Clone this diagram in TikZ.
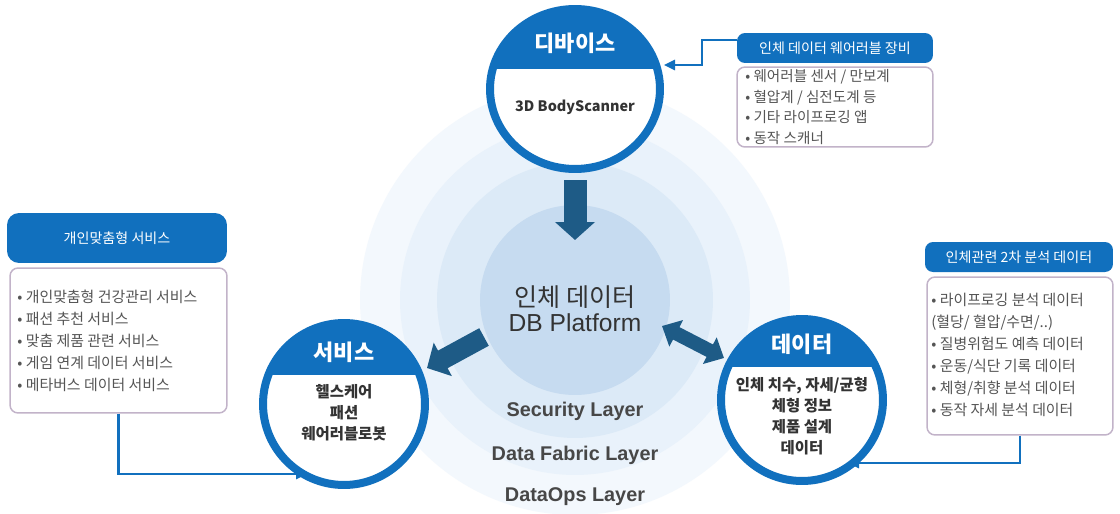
\documentclass[tikz,border=0pt]{standalone}
\usepackage{fontspec}
\setmainfont{Noto Sans CJK KR}
\newfontfamily\latinf{Liberation Sans}
\usetikzlibrary{arrows.meta,calc,shapes.geometric}
\definecolor{cblue}{HTML}{1170BE}
\definecolor{arrowc}{HTML}{1E5B86}
\definecolor{platc}{HTML}{C6DBF0}
\definecolor{haloa}{HTML}{F3F8FD}
\definecolor{halob}{HTML}{E9F2FB}
\definecolor{haloc}{HTML}{DCEAF7}
\definecolor{boxline}{HTML}{C2B3C9}
\definecolor{txtdark}{HTML}{333333}
\definecolor{txtgray}{HTML}{555555}
\tikzset{
  ringnode/.style={fill=white, draw=cblue, line width=0.16cm, inner sep=0pt},
  titletext/.style={font=\bfseries\fontsize{12.5}{15}\selectfont, text=white, inner sep=0pt},
  ctext/.style={font=\bfseries\fontsize{8.8}{11.9}\selectfont, text=txtdark, align=center, inner sep=0pt},
  hdrbox/.style={fill=cblue, rounded corners=0.16cm, text=white, font=\fontsize{8}{10}\selectfont, inner sep=0pt},
  bodybox/.style={draw=boxline, line width=0.03cm, rounded corners=0.16cm, fill=white, inner sep=0pt},
  items/.style={font=\fontsize{8.5}{12.5}\selectfont, text=txtgray, align=left, anchor=west, inner sep=0pt},
  layertext/.style={font=\latinf\bfseries\fontsize{11.3}{13}\selectfont, text=txtdark!90},
  conn/.style={draw=cblue, line width=0.05cm, -{Triangle[length=0.22cm,width=0.2cm]}},
  blockarrow/.style={draw=arrowc}
}
\begin{document}
\begin{tikzpicture}[x=0.02cm,y=-0.02cm]
\useasboundingbox (0,0) rectangle (1120,514);
\fill[white] (0,0) rectangle (1120,514);

% halo rings around the platform
\begin{scope}
\clip (0,0) rectangle (1120,514);
\fill[haloa] (575,300) circle[radius=4.3cm];
\fill[halob] (575,300) circle[radius=3.5cm];
\fill[haloc] (575,300) circle[radius=2.76cm];
\end{scope}
\node[circle, fill=platc, minimum size=3.8cm, inner sep=0pt] (plat) at (575,300) {};
\node[font=\fontsize{14.3}{16}\selectfont, text=txtdark] (platt1) at (575,297) {인체 데이터};
\node[font=\latinf\fontsize{14}{16}\selectfont, text=txtdark] (platt2) at (575,323) {DB Platform};
\node[layertext] (lay1) at (575,411) {Security Layer};
\node[layertext] (lay2) at (575,455) {Data Fabric Layer};
\node[layertext] (lay3) at (575,497) {DataOps Layer};

% device circle
\node[ringnode, ellipse, minimum width=3.4cm, minimum height=3.2cm,
  path picture={\fill[cblue] (path picture bounding box.north west) rectangle ([yshift=-1.2cm]path picture bounding box.north east);}]
  (dev) at (575,89) {};
\node[titletext] (devt) at (575,43) {디바이스};
\node[ctext, font=\bfseries\fontsize{8.2}{11}\selectfont] (devb) at (575,107) {3D BodyScanner};

% service circle
\node[ringnode, circle, minimum size=3.24cm,
  path picture={\fill[cblue] (path picture bounding box.north west) rectangle ([yshift=-1.04cm]path picture bounding box.north east);}]
  (svc) at (344,404) {};
\node[titletext] (svct) at (344,352) {서비스};
\node[ctext] (svcb) at (344,413) {헬스케어\\패션\\웨어러블로봇};

% data circle
\node[ringnode, circle, minimum size=3.24cm,
  path picture={\fill[cblue] (path picture bounding box.north west) rectangle ([yshift=-0.96cm]path picture bounding box.north east);}]
  (dat) at (802,400) {};
\node[titletext] (datt) at (802,344) {데이터};
\node[ctext] (datb) at (802,416) {인체 치수, 자세/균형\\체형 정보\\제품 설계\\데이터};

% block arrows
\coordinate (a1s) at (575,180);
\coordinate (a1e) at (575,240);
\draw[blockarrow, line width=0.46cm, -{Triangle[width=0.78cm,length=0.36cm]}] (a1s) -- (a1e);
\coordinate (a2s) at (484,337);
\coordinate (a2e) at (427,368);
\draw[blockarrow, line width=0.4cm, -{Triangle[width=0.74cm,length=0.36cm]}] (a2s) -- (a2e);
\coordinate (a3s) at (662,326);
\coordinate (a3e) at (724,358);
\draw[blockarrow, line width=0.28cm, {Triangle[width=0.58cm,length=0.32cm]}-{Triangle[width=0.58cm,length=0.32cm]}] (a3s) -- (a3e);

% top right callout
\node[hdrbox, minimum width=3.92cm, minimum height=0.6cm] (wh) at (835,48) {인체 데이터 웨어러블 장비};
\node[bodybox, minimum width=3.92cm, minimum height=1.6cm] (wb) at (835,107) {};
\node[items, font=\fontsize{8.3}{11.9}\selectfont] (wi) at (745,107) {• 웨어러블 센서 / 만보계\\• 혈압계 / 심전도계 등\\• 기타 라이프로깅 앱\\• 동작 스캐너};
\coordinate (devin) at (664,65);
\draw[conn] ($(wh.west)+(0,-8)$) -| (702,65) -- (devin);

% left callout
\node[hdrbox, rounded corners=0.24cm, minimum width=4.4cm, minimum height=1.0cm] (lh) at (117,238) {개인맞춤형 서비스};
\node[bodybox, minimum width=4.34cm, minimum height=2.9cm] (lb) at (118.5,340.5) {};
\node[items] (li) at (17,341) {• 개인맞춤형 건강관리 서비스\\• 패션 추천 서비스\\• 맞춤 제품 관련 서비스\\• 게임 연계 데이터 서비스\\• 메타버스 데이터 서비스};
\coordinate (svcin) at (307,474);
\draw[conn] (lb.south) |- (svcin);

% right callout
\node[hdrbox, minimum width=3.76cm, minimum height=0.6cm] (rh) at (1019,257) {인체관련 2차 분석 데이터};
\node[bodybox, minimum width=3.72cm, minimum height=3.16cm] (rb) at (1020,356) {};
\node[items] (ri) at (931,355) {• 라이프로깅 분석 데이터\\(혈당/ 혈압/수면/..)\\• 질병위험도 예측 데이터\\• 운동/식단 기록 데이터\\• 체형/취향 분석 데이터\\• 동작 자세 분석 데이터};
\coordinate (datin) at (848,463);
\draw[conn] (rb.south) |- (datin);
\end{tikzpicture}
\end{document}
